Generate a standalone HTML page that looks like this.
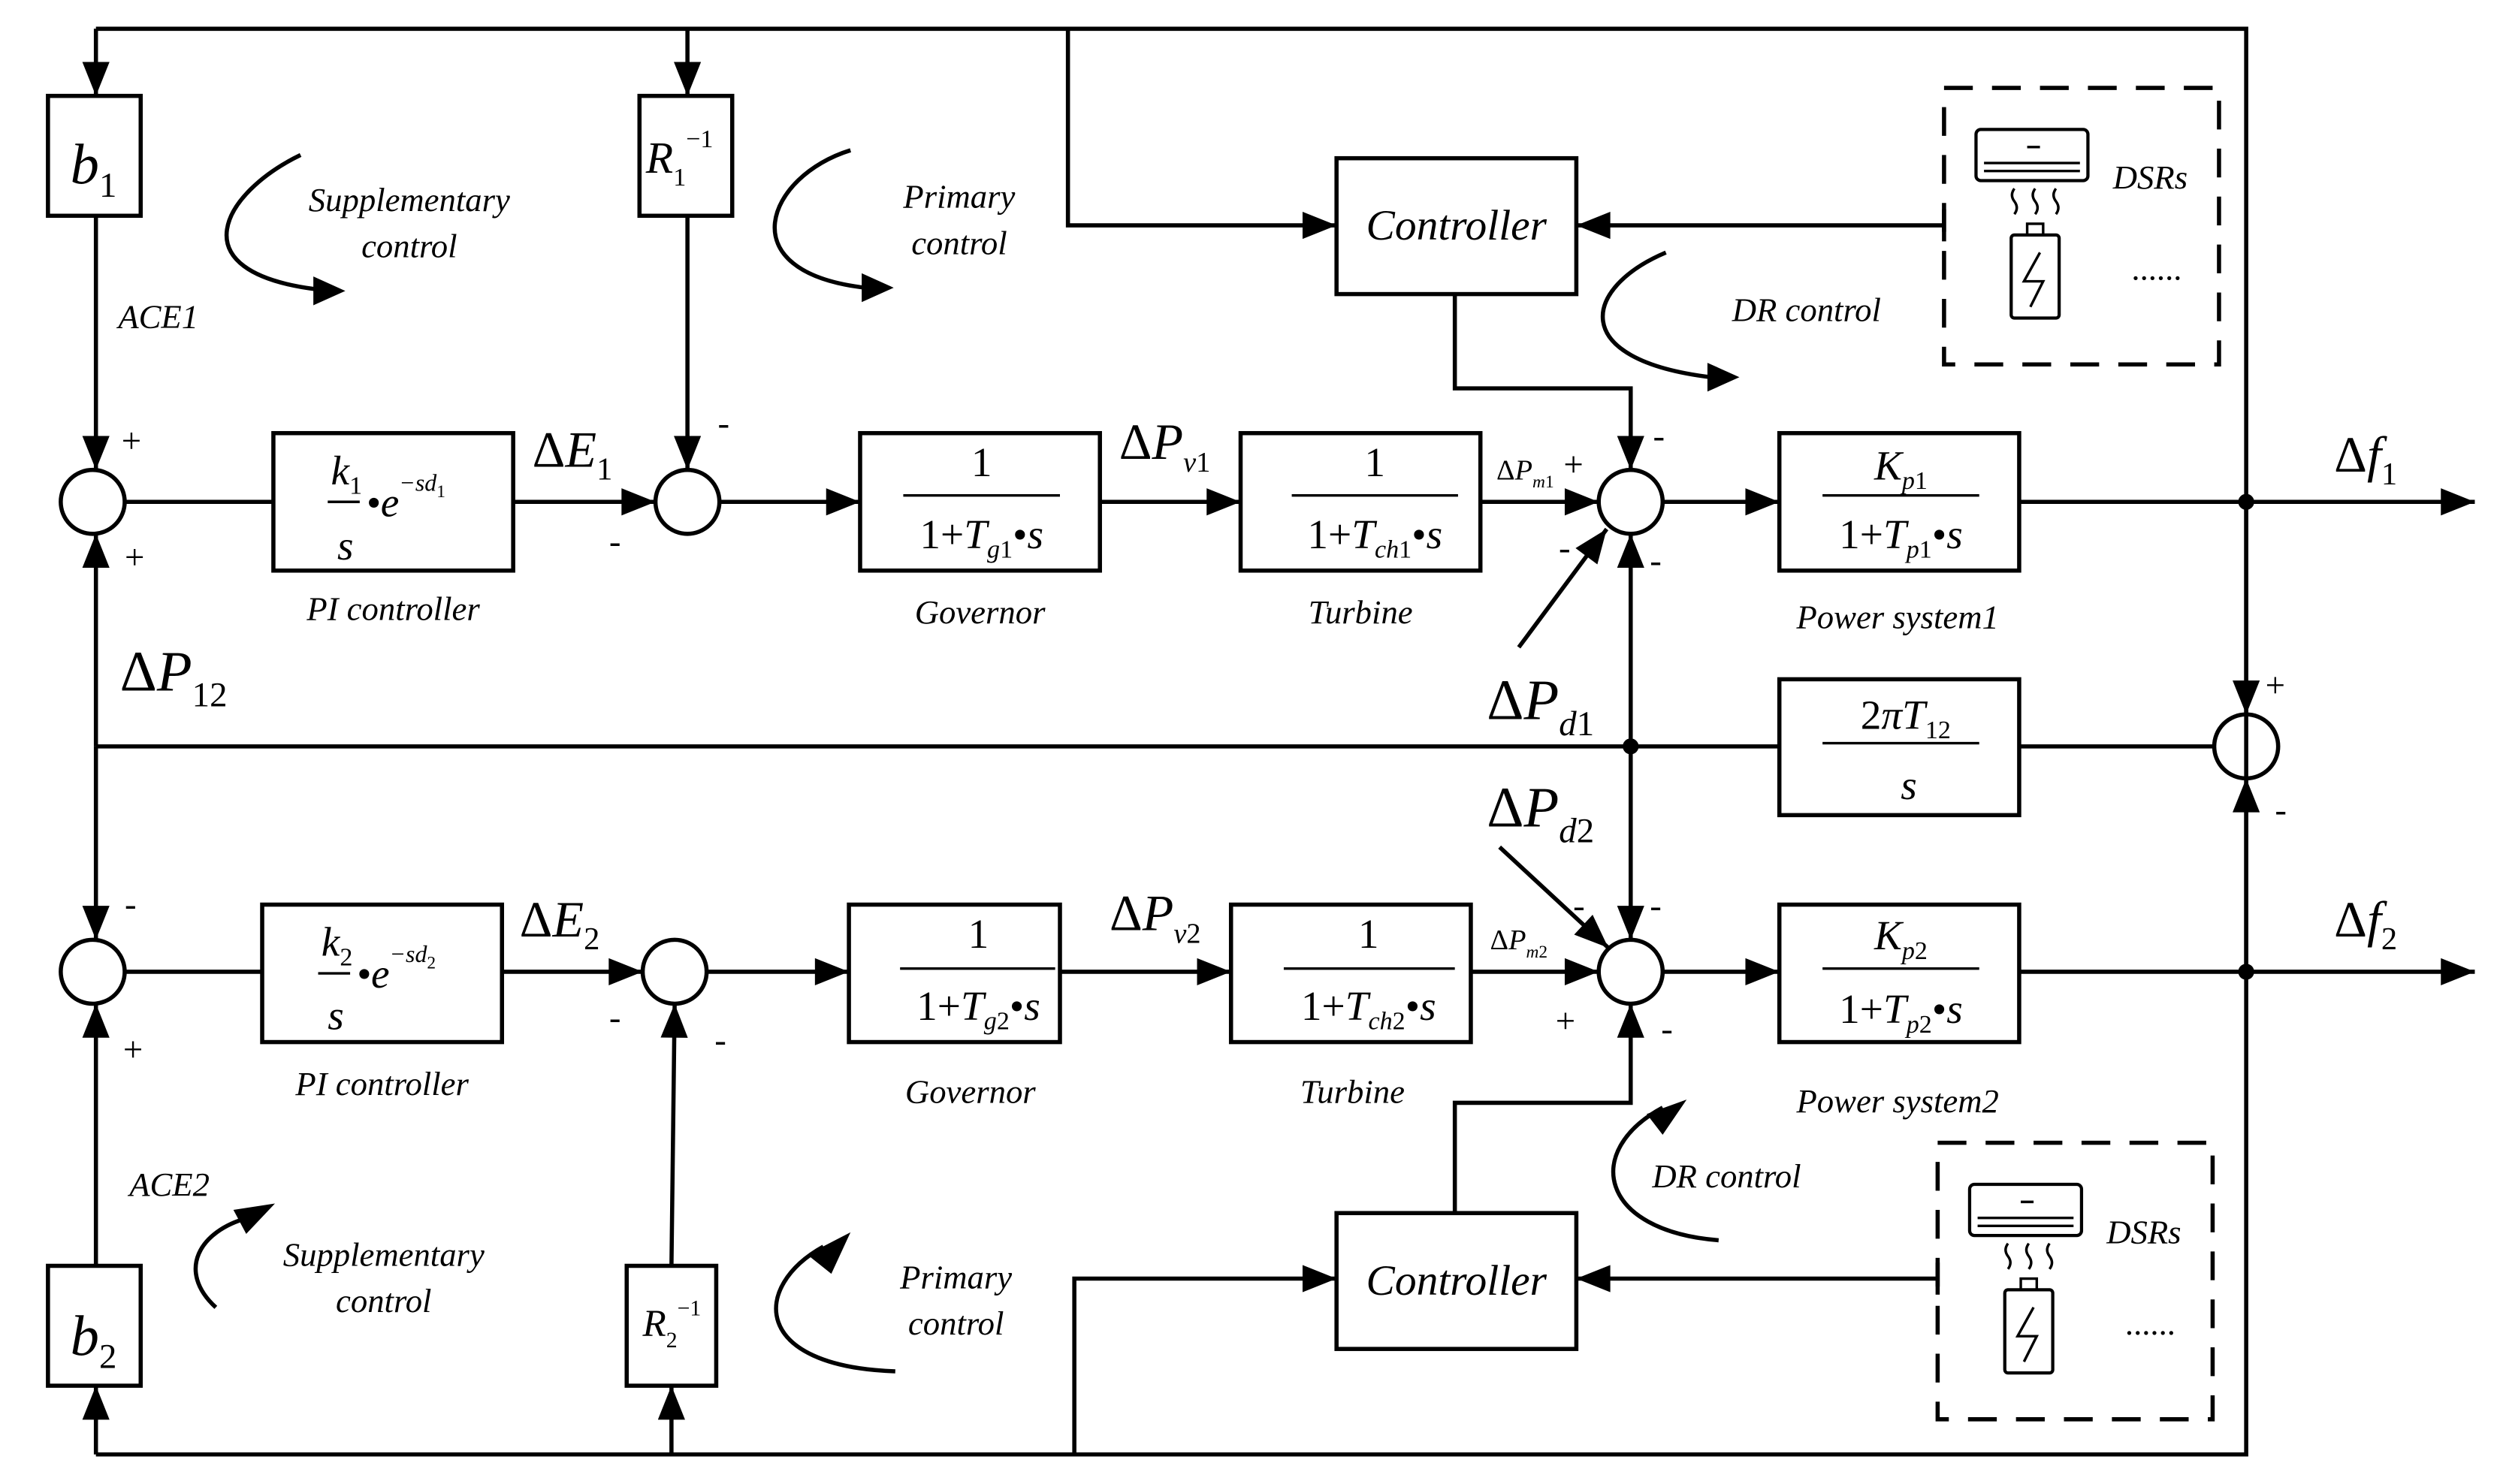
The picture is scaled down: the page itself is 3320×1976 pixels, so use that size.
<!DOCTYPE html>
<html><head><meta charset="utf-8"><style>
html,body{margin:0;padding:0;background:#fff;}
svg{display:block;font-family:"Liberation Serif","DejaVu Serif",serif;}
text{font-family:"Liberation Serif","DejaVu Serif",serif;fill:#000;}
.i{font-style:italic;}
</style></head><body>
<svg width="3320" height="1976" viewBox="0 0 1560 928.5" preserveAspectRatio="none" xmlns="http://www.w3.org/2000/svg" font-family="Liberation Serif, serif">
<defs>
<marker id="b" viewBox="0 0 10 8" markerWidth="22" markerHeight="17" refX="10" refY="4" orient="auto" markerUnits="userSpaceOnUse"><path d="M0,0 L10,4 L0,8 Z" fill="#000"/></marker>
</defs>
<g fill="none" stroke="#000" stroke-width="2.6">
<path d="M60,18 H1405 V910 H60"/>
<path d="M60,18 V60" marker-end="url(#b)"/>
<path d="M430,18 V60" marker-end="url(#b)"/>
<path d="M668,18 V141 H836" marker-end="url(#b)"/>
<rect x="30" y="60" width="58" height="75"/>
<rect x="400" y="60" width="58" height="75"/>
<rect x="836" y="99" width="150" height="85"/>
<path d="M1216,141 H986" marker-end="url(#b)"/>
<path d="M1216,131 V151"/>
<rect x="1216" y="55" width="172" height="173" stroke-dasharray="18,12"/>
<path d="M910,184 V243 H1020 V294" marker-end="url(#b)"/>
<path d="M60,135 V294" marker-end="url(#b)"/>
<path d="M430,135 V294" marker-end="url(#b)"/>
<circle cx="58" cy="314" r="20"/>
<circle cx="430" cy="314" r="20"/>
<circle cx="1020" cy="314" r="20"/>
<rect x="171" y="271" width="150" height="86"/>
<rect x="538" y="271" width="150" height="86"/>
<rect x="776" y="271" width="150" height="86"/>
<rect x="1113" y="271" width="150" height="86"/>
<path d="M78,314 H171"/>
<path d="M321,314 H410" marker-end="url(#b)"/>
<path d="M450,314 H538" marker-end="url(#b)"/>
<path d="M688,314 H776" marker-end="url(#b)"/>
<path d="M926,314 H1000" marker-end="url(#b)"/>
<path d="M1040,314 H1113" marker-end="url(#b)"/>
<path d="M1263,314 H1548" marker-end="url(#b)"/>
<path d="M950,405 L1005,331" marker-end="url(#b)"/>
<path d="M1405,314 V447" marker-end="url(#b)"/>
<circle cx="1405" cy="467" r="20"/>
<path d="M1405,608 V487" marker-end="url(#b)"/>
<rect x="1113" y="425" width="150" height="85"/>
<path d="M60,467 H1113 M1263,467 H1385"/>
<path d="M1020,467 V334" marker-end="url(#b)"/>
<path d="M1020,467 V588" marker-end="url(#b)"/>
<path d="M60,467 V334" marker-end="url(#b)"/>
<path d="M60,467 V588" marker-end="url(#b)"/>
<circle cx="58" cy="608" r="20"/>
<circle cx="422" cy="608" r="20"/>
<circle cx="1020" cy="608" r="20"/>
<rect x="164" y="566" width="150" height="86"/>
<rect x="531" y="566" width="132" height="86"/>
<rect x="770" y="566" width="150" height="86"/>
<rect x="1113" y="566" width="150" height="86"/>
<path d="M78,608 H164"/>
<path d="M314,608 H402" marker-end="url(#b)"/>
<path d="M442,608 H531" marker-end="url(#b)"/>
<path d="M663,608 H770" marker-end="url(#b)"/>
<path d="M920,608 H1000" marker-end="url(#b)"/>
<path d="M1040,608 H1113" marker-end="url(#b)"/>
<path d="M1263,608 H1548" marker-end="url(#b)"/>
<path d="M938,530 L1006,593" marker-end="url(#b)"/>
<rect x="30" y="792" width="58" height="75"/>
<rect x="392" y="792" width="56" height="75"/>
<path d="M60,910 V867" marker-end="url(#b)"/>
<path d="M420,910 V867" marker-end="url(#b)"/>
<path d="M60,792 V628" marker-end="url(#b)"/>
<path d="M420,792 L422,628" marker-end="url(#b)"/>
<path d="M672,910 V800 H836" marker-end="url(#b)"/>
<rect x="836" y="759" width="150" height="85"/>
<path d="M1212,800 H986" marker-end="url(#b)"/>
<path d="M1212,790 V810"/>
<rect x="1212" y="715" width="172" height="173" stroke-dasharray="18,12"/>
<path d="M910,759 V690 H1020 V628" marker-end="url(#b)"/>
<path d="M565,310 H663 M808,310 H912 M1140,310 H1238 M1140,465 H1238 M563,606 H660 M803,606 H910 M1140,606 H1238" stroke-width="1.6"/>
<path d="M205,314 H225 M199,609 H219" stroke-width="1.6"/>
<path d="M188,97 C140,120 110,170 198,181"/>
<path d="M532,94 C480,110 455,170 541,180"/>
<path d="M1042,158 C990,180 980,225 1070,236"/>
<path d="M1075,776 C1000,770 990,720 1040,693"/>
<path d="M135,818 C110,795 125,770 155,762"/>
<path d="M560,858 C470,855 470,805 515,780"/>
<rect x="1236" y="81" width="70" height="32" rx="3" stroke-width="2"/>
<path d="M1241,102 H1301 M1241,107 H1301 M1268,92 H1276" stroke-width="1.6"/>
<path d="M1260,118 q-3,4 0,8 q3,4 0,8 M1273,118 q-3,4 0,8 q3,4 0,8 M1286,118 q-3,4 0,8 q3,4 0,8" stroke-width="1.6"/>
<rect x="1258" y="147" width="30" height="52" rx="2" stroke-width="2"/>
<rect x="1268" y="140" width="10" height="7" stroke-width="1.6"/>
<path d="M1276,158 L1266,176 H1278 L1270,192" stroke-width="1.6"/>
<rect x="1232" y="741" width="70" height="32" rx="3" stroke-width="2"/>
<path d="M1237,762 H1297 M1237,767 H1297 M1264,752 H1272" stroke-width="1.6"/>
<path d="M1256,778 q-3,4 0,8 q3,4 0,8 M1269,778 q-3,4 0,8 q3,4 0,8 M1282,778 q-3,4 0,8 q3,4 0,8" stroke-width="1.6"/>
<rect x="1254" y="807" width="30" height="52" rx="2" stroke-width="2"/>
<rect x="1264" y="800" width="10" height="7" stroke-width="1.6"/>
<path d="M1272,818 L1262,836 H1274 L1266,852" stroke-width="1.6"/>
</g>
<g fill="#000">
<path d="M196,173 L216,182 L196,191 Z"/>
<path d="M539,171 L559,180 L539,189 Z"/>
<path d="M1068,227 L1088,236 L1068,245 Z"/>
<path d="M1030,697 L1055,688 L1040,710 Z"/>
<path d="M146,757 L172,753 L154,772 Z"/>
<path d="M505,785 L532,771 L520,797 Z"/>
<circle cx="1405" cy="314" r="5"/>
<circle cx="1405" cy="608" r="5"/>
<circle cx="1020" cy="467" r="5"/>
</g>
<g font-size="36" class="i"><text x="44" y="115" class="i">b<tspan font-size="22" dy="8" font-style="normal">1</tspan></text>
<text x="44" y="848" class="i">b<tspan font-size="22" dy="8" font-style="normal">2</tspan></text></g>
<text x="404" y="108" font-size="28" class="i">R<tspan font-size="16" dy="8" font-style="normal">1</tspan><tspan font-size="16" dy="-24" font-style="normal">−1</tspan></text>
<text x="402" y="836" font-size="24" class="i">R<tspan font-size="14" dy="7" font-style="normal">2</tspan><tspan font-size="14" dy="-20" font-style="normal">−1</tspan></text>
<g font-size="21" class="i" text-anchor="middle">
<text x="256" y="132">Supplementary</text><text x="256" y="161">control</text>
<text x="600" y="130">Primary</text><text x="600" y="159">control</text>
<text x="1130" y="201">DR control</text>
<text x="1080" y="743">DR control</text>
<text x="240" y="792">Supplementary</text><text x="240" y="821">control</text>
<text x="598" y="806">Primary</text><text x="598" y="835">control</text>
<text x="99" y="205">ACE1</text>
<text x="106" y="748">ACE2</text>
<text x="246" y="388">PI controller</text>
<text x="239" y="685">PI controller</text>
<text x="613" y="390">Governor</text>
<text x="607" y="690">Governor</text>
<text x="851" y="390">Turbine</text>
<text x="846" y="690">Turbine</text>
<text x="1187" y="393">Power system1</text>
<text x="1187" y="696">Power system2</text>
<text x="1345" y="118">DSRs</text>
<text x="1341" y="778">DSRs</text>
<text x="1349" y="175" font-style="normal">......</text>
<text x="1345" y="835" font-style="normal">......</text>
</g>
<g font-size="27" class="i" text-anchor="middle">
<text x="911" y="150">Controller</text>
<text x="911" y="810">Controller</text>
</g>
<g font-size="26" text-anchor="middle">
<text x="614" y="298">1</text><text x="614" y="343">1+<tspan class="i">T</tspan><tspan font-size="16" dy="6" class="i">g</tspan><tspan font-size="16">1</tspan><tspan dy="-6">•</tspan><tspan class="i">s</tspan></text>
<text x="860" y="298">1</text><text x="860" y="343">1+<tspan class="i">T</tspan><tspan font-size="16" dy="6" class="i">ch</tspan><tspan font-size="16">1</tspan><tspan dy="-6">•</tspan><tspan class="i">s</tspan></text>
<text x="1189" y="300" class="i">K<tspan font-size="16" dy="6">p</tspan><tspan font-size="16" font-style="normal">1</tspan></text>
<text x="1189" y="343">1+<tspan class="i">T</tspan><tspan font-size="16" dy="6" class="i">p</tspan><tspan font-size="16">1</tspan><tspan dy="-6">•</tspan><tspan class="i">s</tspan></text>
<text x="612" y="593">1</text><text x="612" y="638">1+<tspan class="i">T</tspan><tspan font-size="16" dy="6" class="i">g</tspan><tspan font-size="16">2</tspan><tspan dy="-6">•</tspan><tspan class="i">s</tspan></text>
<text x="856" y="593">1</text><text x="856" y="638">1+<tspan class="i">T</tspan><tspan font-size="16" dy="6" class="i">ch</tspan><tspan font-size="16">2</tspan><tspan dy="-6">•</tspan><tspan class="i">s</tspan></text>
<text x="1189" y="594" class="i">K<tspan font-size="16" dy="6">p</tspan><tspan font-size="16" font-style="normal">2</tspan></text>
<text x="1189" y="640">1+<tspan class="i">T</tspan><tspan font-size="16" dy="6" class="i">p</tspan><tspan font-size="16">2</tspan><tspan dy="-6">•</tspan><tspan class="i">s</tspan></text>
<text x="1192" y="456">2<tspan class="i">πT</tspan><tspan font-size="16" dy="6">12</tspan></text>
<text x="1194" y="500" class="i">s</text>
</g>
<g font-size="26" class="i">
<text x="207" y="303">k<tspan font-size="16" dy="6" font-style="normal">1</tspan></text>
<text x="211" y="350">s</text>
<text x="229" y="323">•e<tspan font-size="15" dy="-16">−sd</tspan><tspan font-size="11" dy="4" font-style="normal">1</tspan></text>
<text x="201" y="598">k<tspan font-size="16" dy="6" font-style="normal">2</tspan></text>
<text x="205" y="644">s</text>
<text x="223" y="618">•e<tspan font-size="15" dy="-16">−sd</tspan><tspan font-size="11" dy="4" font-style="normal">2</tspan></text>
</g>
<g font-size="32">
<text x="333" y="292">Δ<tspan class="i">E</tspan><tspan font-size="20" dy="8">1</tspan></text>
<text x="325" y="586">Δ<tspan class="i">E</tspan><tspan font-size="20" dy="8">2</tspan></text>
<text x="700" y="287">Δ<tspan class="i">P</tspan><tspan font-size="18" dy="8" class="i">v</tspan><tspan font-size="18">1</tspan></text>
<text x="694" y="582">Δ<tspan class="i">P</tspan><tspan font-size="18" dy="8" class="i">v</tspan><tspan font-size="18">2</tspan></text>
<text x="75" y="432" font-size="36">Δ<tspan class="i">P</tspan><tspan font-size="22" dy="10">12</tspan></text>
<text x="930" y="450" font-size="36">Δ<tspan class="i">P</tspan><tspan font-size="22" dy="10" class="i">d</tspan><tspan font-size="22">1</tspan></text>
<text x="930" y="517" font-size="36">Δ<tspan class="i">P</tspan><tspan font-size="22" dy="10" class="i">d</tspan><tspan font-size="22">2</tspan></text>
<text x="1460" y="295">Δ<tspan class="i">f</tspan><tspan font-size="20" dy="8">1</tspan></text>
<text x="1460" y="586">Δ<tspan class="i">f</tspan><tspan font-size="20" dy="8">2</tspan></text>
</g>
<g font-size="18">
<text x="936" y="300">Δ<tspan class="i">P</tspan><tspan font-size="11" dy="5" class="i">m</tspan><tspan font-size="11">1</tspan></text>
<text x="932" y="594">Δ<tspan class="i">P</tspan><tspan font-size="11" dy="5" class="i">m</tspan><tspan font-size="11">2</tspan></text>
</g>
<g font-size="22">
<text x="76" y="283">+</text><text x="78" y="356">+</text>
<text x="449" y="272">-</text><text x="381" y="346">-</text>
<text x="1034" y="280">-</text><text x="978" y="298">+</text><text x="975" y="350">-</text><text x="1032" y="358">-</text>
<text x="1417" y="436">+</text><text x="1423" y="514">-</text>
<text x="78" y="573">-</text><text x="77" y="664">+</text>
<text x="381" y="644">-</text><text x="447" y="658">-</text>
<text x="984" y="574">-</text><text x="1032" y="574">-</text><text x="973" y="646">+</text><text x="1039" y="651">-</text>
</g>
</svg>
</body></html>
